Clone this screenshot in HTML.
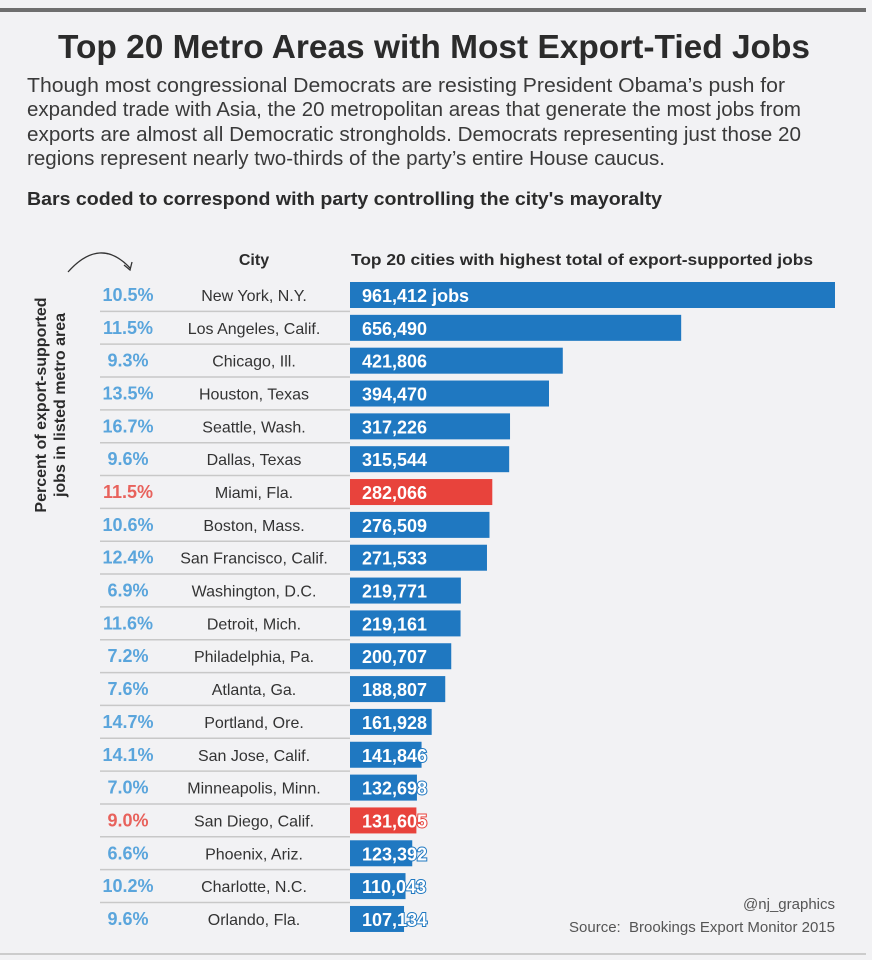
<!DOCTYPE html>
<html><head><meta charset="utf-8"><style>
body{margin:0;background:#f2f2f4;}
svg{display:block;font-family:"Liberation Sans",sans-serif;}
</style></head><body>
<svg id="chart" width="872" height="960" viewBox="0 0 872 960">
<rect width="872" height="960" fill="#f2f2f4"/>
<rect x="0" y="8" width="866" height="4" fill="#6e6e6e"/>
<text x="434" y="58" text-anchor="middle" font-size="33" font-weight="bold" fill="#2b2b2b" textLength="752" lengthAdjust="spacingAndGlyphs">Top 20 Metro Areas with Most Export-Tied Jobs</text>
<g font-size="20" fill="#3a3a3a">
<text x="27" y="92" textLength="758" lengthAdjust="spacingAndGlyphs">Though most congressional Democrats are resisting President Obama’s push for</text>
<text x="27" y="116" textLength="774" lengthAdjust="spacingAndGlyphs">expanded trade with Asia, the 20 metropolitan areas that generate the most jobs from</text>
<text x="27" y="141" textLength="774" lengthAdjust="spacingAndGlyphs">exports are almost all Democratic strongholds. Democrats representing just those 20</text>
<text x="27" y="165" textLength="638" lengthAdjust="spacingAndGlyphs">regions represent nearly two-thirds of the party’s entire House caucus.</text>
</g>
<text x="27" y="205" font-size="18" font-weight="bold" fill="#2b2b2b" textLength="635" lengthAdjust="spacingAndGlyphs">Bars coded to correspond with party controlling the city's mayoralty</text>
<path d="M68 272 Q100 236 130 268" fill="none" stroke="#333" stroke-width="1.3"/>
<path d="M124 265 L130 270 L132 262" fill="none" stroke="#333" stroke-width="1.3"/>
<text x="254" y="265" text-anchor="middle" font-size="16" font-weight="bold" fill="#2b2b2b">City</text>
<text x="351" y="265" font-size="16" font-weight="bold" fill="#2b2b2b" textLength="462" lengthAdjust="spacingAndGlyphs">Top 20 cities with highest total of export-supported jobs</text>
<g transform="translate(46,405) rotate(-90)" font-size="16" font-weight="bold" fill="#2b2b2b" text-anchor="middle">
<text x="0" y="0">Percent of export-supported</text>
<text x="0" y="19">jobs in listed metro area</text>
</g>
<g id="rows"></g>
<text x="835" y="909" text-anchor="end" font-size="15" fill="#555">@nj_graphics</text>
<text x="835" y="932" text-anchor="end" font-size="15" fill="#555" xml:space="preserve">Source:  Brookings Export Monitor 2015</text>
<rect x="0" y="953" width="866" height="2" fill="#ccc"/>
</svg>
<script>
const cities=["New York, N.Y.","Los Angeles, Calif.","Chicago, Ill.","Houston, Texas","Seattle, Wash.","Dallas, Texas","Miami, Fla.","Boston, Mass.","San Francisco, Calif.","Washington, D.C.","Detroit, Mich.","Philadelphia, Pa.","Atlanta, Ga.","Portland, Ore.","San Jose, Calif.","Minneapolis, Minn.","San Diego, Calif.","Phoenix, Ariz.","Charlotte, N.C.","Orlando, Fla."];
const jobs=[961412,656490,421806,394470,317226,315544,282066,276509,271533,219771,219161,200707,188807,161928,141846,132698,131605,123392,110043,107134];
const pcts=[10.5,11.5,9.3,13.5,16.7,9.6,11.5,10.6,12.4,6.9,11.6,7.2,7.6,14.7,14.1,7.0,9.0,6.6,10.2,9.6];
const party=["D","D","D","D","D","D","R","D","D","D","D","D","D","D","D","D","R","D","D","D"];
const NS="http://www.w3.org/2000/svg";
const x0=350,xScale=v=>v*485/961412;
const yRow=i=>282+i*32.84;
const g=document.getElementById('rows');
function mk(t,a){const e=document.createElementNS(NS,t);for(const k in a)e.setAttribute(k,a[k]);return e;}
cities.forEach((c,i)=>{
 const y=yRow(i),rep=party[i]==="R",col=rep?"#e8433c":"#1f78c1";
 if(i>0){const l=mk('line',{x1:100,x2:350,y1:y-3.5,y2:y-3.5,stroke:"#c8c8c8","stroke-width":1.5});
 
 g.appendChild(l);}
 const p=mk('text',{x:128,y:y+19,"text-anchor":"middle","font-size":18,"font-weight":"bold",fill:rep?"#e8625c":"#5aa5dc"});
 p.textContent=pcts[i].toFixed(1)+"%";
 
 g.appendChild(p);
 const t=mk('text',{x:254,y:y+19,"text-anchor":"middle","font-size":16,fill:"#333"});
 t.textContent=c;
 
 g.appendChild(t);
 const b=mk('rect',{x:x0,y:y,width:xScale(jobs[i]),height:26,fill:col});
 
 g.appendChild(b);
 const v=mk('text',{x:362,y:y+20,"font-size":18,"font-weight":"bold",fill:"#fff",stroke:col,"stroke-width":2,"paint-order":"stroke"});
 v.textContent=jobs[i].toLocaleString('en-US')+(i===0?" jobs":"");
 
 g.appendChild(v);
});
</script>
</body></html>
